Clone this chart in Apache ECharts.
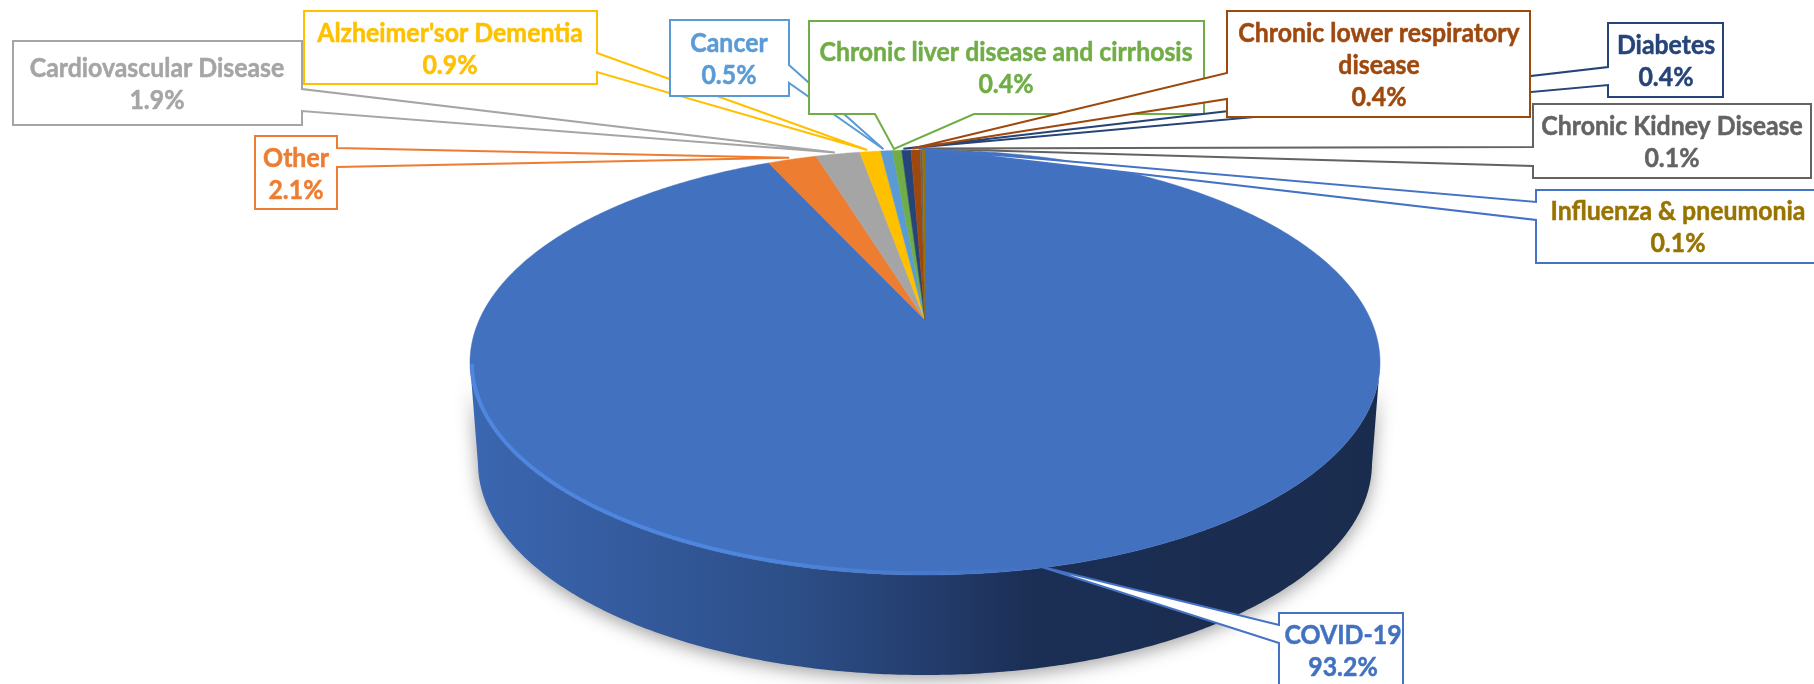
<!DOCTYPE html>
<html><head><meta charset="utf-8">
<style>html,body{margin:0;padding:0;background:#fff}#c{width:1814px;height:684px}</style>
<script src="https://cdn.jsdelivr.net/npm/echarts@6/dist/echarts.min.js"></script>
</head><body><div id="c"></div>
<script>
const categories = ['COVID-19','Other','Cardiovascular Disease',"Alzheimer'sor Dementia",'Cancer','Chronic liver disease and cirrhosis','Diabetes','Chronic lower respiratory\ndisease','Chronic Kidney Disease','Influenza & pneumonia'];
const values = [93.2,2.1,1.9,0.9,0.5,0.4,0.4,0.4,0.1,0.1];
const sliceColors = ['#4271c0','#ed7d31','#a5a5a5','#ffc000','#5b9bd5','#70ad47','#264478','#9e480e','#636363','#997300'];
const borderColors = ['#4472c4','#ed7d31','#a5a5a5','#ffc000','#5b9bd5','#70ad47','#264478','#9e480e','#636363','#4472c4'];
// callout boxes: [left, top, right, bottom], side holding the pointer, pointer base start/end, text centre
const boxes = [
 [1279,613,1403,692,'left',625,643,1343,651],
 [255,136,337,209,'right',148,167,296,174],
 [13,41,302,125,'right',89,111,157,84],
 [304,11,597,84,'right',53,72,450,49],
 [670,20,789,96,'right',65,83,729,59.5],
 [809,21,1204,114,'bottom',875,974,1006,68],
 [1608,23,1723,97,'left',67,85,1666,61],
 [1227,11,1530,117,'left',73,99,1379,65],
 [1533,104,1811,178,'left',147,166,1672,142],
 [1536,190,1820,263,'left',202,220,1678,227.5]
];
const TOP = {cx:925, cy:362.5, a:455, b:212.5, apexY:320};
const BOT = {cx:925, cy:463, a:447, b:212};
const TIP_SHIFT = [-3,-1.5];
const FONT = 'Lato,"Liberation Sans",sans-serif';
const TEXT_SCALE = 0.92;
const k = (TOP.cy-TOP.apexY)/TOP.b;
const total = values.reduce((s,v)=>s+v,0);
function project(E,u,v){
  const w = 1+k*v;
  return [E.cx + E.a*Math.sqrt(1-k*k)*u/w, E.cy - (E.b*v+E.b*k)/w];
}
function startShare(i){let s=0;for(let j=0;j<i;j++)s+=values[j];return s/total;}
function arc(E,s0,s1){
  const pts=[],n=Math.max(2,Math.ceil((s1-s0)*720));
  for(let i=0;i<=n;i++){const t=2*Math.PI*(s0+(s1-s0)*i/n);pts.push(project(E,Math.sin(t),Math.cos(t)));}
  return pts;
}
function frontShares(s0,s1){ // part of the slice on the near side of the disc
  const out=[],n=Math.ceil((s1-s0)*720);
  for(let i=0;i<=n;i++){const s=s0+(s1-s0)*i/n;if(Math.cos(2*Math.PI*s)<-k)out.push(s);}
  return out;
}
const LG = echarts.graphic.LinearGradient;
function renderSlice(params,api){
  const i=params.dataIndex,s0=startShare(i),s1=s0+api.value(0)/total;
  const children=[];
  const fs=frontShares(s0,s1);
  if(fs.length>1){
    const a=fs[0],b=fs[fs.length-1];
    const topPts=arc(TOP,a,b),botPts=arc(BOT,a,b).reverse();
    children.push({type:'polygon',shape:{points:topPts.concat(botPts)},z2:1,
      style:{fill:new LG(470,0,1381,0,[{offset:0,color:'#3b67b1'},{offset:.2,color:'#33599a'},{offset:.35,color:'#2d4f88'},{offset:.5,color:'#243d6e'},{offset:.62,color:'#1b2e54'},{offset:1,color:'#1a2c4e'}],true),
        shadowBlur:18,shadowColor:'rgba(0,0,0,0.38)',shadowOffsetY:4}});
  }
  children.push({type:'polygon',shape:{points:[project(TOP,0,0)].concat(arc(TOP,s0,s1))},z2:2,
    style:{fill:api.style().fill,stroke:api.style().fill,lineWidth:.5}});
  if(fs.length>1){
    const a=fs[0],b=fs[fs.length-1];
    children.push({type:'polyline',shape:{points:arc({...TOP,a:TOP.a-2,b:TOP.b-2},a,b)},z2:3,
      style:{fill:null,lineWidth:3.5,stroke:new LG(470,0,1040,0,[{offset:0,color:'rgba(78,135,225,1)'},{offset:.5,color:'rgba(78,135,225,.95)'},{offset:.8,color:'rgba(78,135,225,.4)'},{offset:1,color:'rgba(78,135,225,0)'}],true)}});
  }
  return {type:'group',children};
}
function renderCallout(params,api){
  const i=params.dataIndex,s0=startShare(i),mid=s0+api.value(0)/total/2,t=2*Math.PI*mid;
  const p=project(TOP,Math.sin(t),Math.cos(t));
  const tip=[p[0]+TIP_SHIFT[0],p[1]+TIP_SHIFT[1]];
  const [l,tp,r,bt,side,m,n,cx,cy]=boxes[i];
  let pts;
  if(side==='right') pts=[[l,tp],[r,tp],[r,m],tip,[r,n],[r,bt],[l,bt]];
  else if(side==='left') pts=[[l,tp],[r,tp],[r,bt],[l,bt],[l,n],tip,[l,m]];
  else pts=[[l,tp],[r,tp],[r,bt],[n,bt],tip,[m,bt],[l,bt]];
  return {type:'group',children:[
    {type:'polygon',shape:{points:pts},style:{fill:'#fff',stroke:borderColors[i],lineWidth:2,lineJoin:'miter'}},
    {type:'text',x:cx,y:cy,scaleX:TEXT_SCALE,style:{text:categories[i]+'\n'+api.value(0).toFixed(1)+'%',x:0,y:0,align:'center',verticalAlign:'middle',
      fill:sliceColors[i],stroke:sliceColors[i],lineWidth:.5,font:'bold 27px '+FONT,lineHeight:32}}
  ]};
}
const chart=echarts.init(document.getElementById('c'),null,{renderer:'canvas'});
chart.setOption({
  animation:false,
  backgroundColor:'#fff',
  series:[
    {type:'custom',name:'slices',coordinateSystem:'none',renderItem:renderSlice,z:1,
     data:values.map((v,i)=>({value:v,name:categories[i],itemStyle:{color:sliceColors[i]}}))},
    {type:'custom',name:'callouts',coordinateSystem:'none',renderItem:renderCallout,z:2,
     data:values.map((v,i)=>({value:v,name:categories[i]}))}
  ]
});
</script></body></html>
